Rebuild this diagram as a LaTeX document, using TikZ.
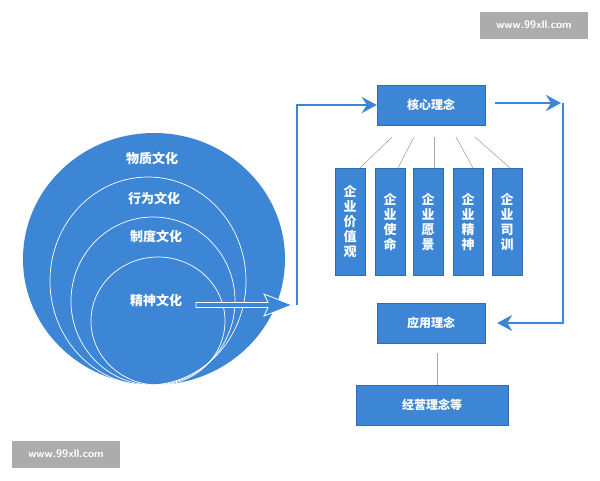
\documentclass[tikz,border=0pt]{standalone}
\usepackage{fontspec}
\newfontfamily\cjk{Noto Sans CJK SC}
\usetikzlibrary{arrows.meta}
\definecolor{qblue}{HTML}{3D86D6}
\tikzset{
  blk/.style={fill=qblue,draw=qblue!80!black,line width=0.4pt,text=white,font=\cjk\bfseries\fontsize{12}{13}\selectfont},
  vblk/.style={blk,minimum width=30pt,minimum height=107pt,anchor=north,inner sep=2pt,align=center,font=\cjk\bfseries\fontsize{13}{15}\selectfont},
  ring/.style={draw=white,line width=0.7pt},
  lbl/.style={text=white,font=\cjk\bfseries\fontsize{13}{14}\selectfont},
  flow/.style={draw=qblue,line width=2.4pt,-{Stealth[length=15pt,width=16pt,inset=5pt]}},
  spoke/.style={draw=gray!70,line width=0.6pt},
  wmark/.style={fill=gray!65,text=white,font=\sffamily\bfseries\fontsize{11}{12}\selectfont,minimum width=108pt,minimum height=27pt}
}
\begin{document}
\begin{tikzpicture}[x=1pt,y=-1pt]
\useasboundingbox[fill=white] (0,0) rectangle (600,480);
% layers
\fill[qblue] (154,259) ellipse [x radius=131,y radius=126];
\draw[ring] (148,281) ellipse [x radius=98,y radius=104];
\draw[ring] (153,301) ellipse [x radius=82,y radius=84];
\draw[ring] (158,321) ellipse [x radius=67,y radius=64];
\node[lbl] (wz) at (152,158) {物质文化};
\node[lbl] (xw) at (154,198) {行为文化};
\node[lbl] (zd) at (156,236) {制度文化};
\node[lbl] (js) at (156,300) {精神文化};
% boxes
\node[blk,minimum width=108pt,minimum height=40pt] (hx) at (431,105) {核心理念};
\node[blk,minimum width=108pt,minimum height=40pt] (yy) at (431,323) {应用理念};
\node[blk,minimum width=152pt,minimum height=40pt] (jy) at (432,405) {经营理念等};
\foreach \n/\x/\t in {a/350/企\\业\\价\\值\\观, b/390/企\\业\\使\\命, c/428/企\\业\\愿\\景, d/468/企\\业\\精\\神, e/507/企\\业\\司\\训}
  \node[vblk] (\n) at (\x,168) {\t};
% spokes
\coordinate (sa) at (392,137); \coordinate (sb) at (414,137); \coordinate (sc) at (434,137);
\coordinate (sd) at (456,137); \coordinate (se) at (475,137);
\draw[spoke] (sa) -- (360,168);
\draw[spoke] (sb) -- (398,168);
\draw[spoke] (sc) -- (434,168);
\draw[spoke] (sd) -- (473,168);
\draw[spoke] (se) -- (510,168);
\draw[spoke] (yy.south) ++(6,10) coordinate (ys) -- (jy.north -| ys);
% flows
\draw[white,fill=qblue,line width=0.8pt,line join=miter] (196,302.5) -- (268,302.5) -- (264,294) -- (292,305)
  -- (264,316) -- (268,307.5) -- (196,307.5) -- cycle;
\draw[flow] (297,305) |- (hx.west);
\draw[flow] (hx.east) ++(10,-2) -- (561,103);
\coordinate (rc) at (563,103);
\draw[flow] (rc) |- ([xshift=12pt]yy.east);
% watermarks
\node[wmark] (m1) at (534,25) {www.99xll.com};
\node[wmark] (m2) at (66,454) {www.99xll.com};
\end{tikzpicture}
\end{document}
